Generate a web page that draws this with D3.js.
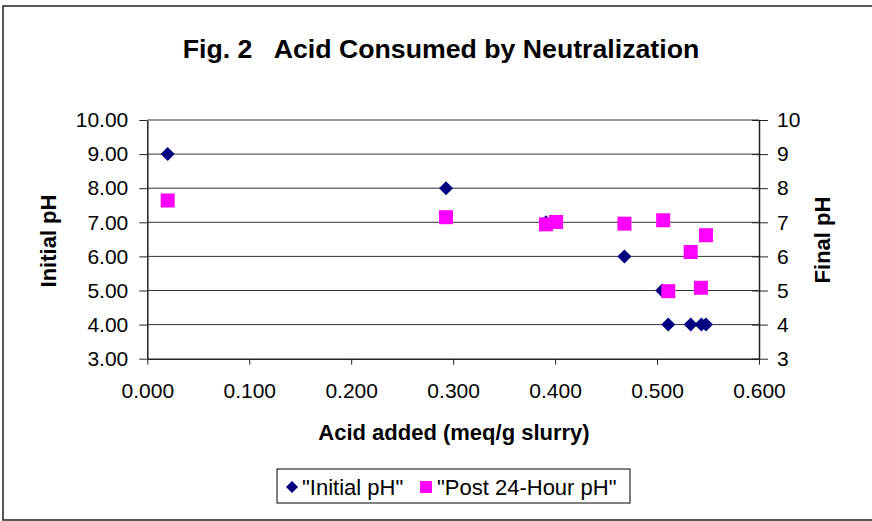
<!DOCTYPE html>
<html>
<head>
<meta charset="utf-8">
<script src="https://cdn.jsdelivr.net/npm/d3@7/dist/d3.min.js"></script>
<style>
  html, body { margin: 0; padding: 0; background: #fff; }
  svg { display: block; font-family: "Liberation Sans", Arial, sans-serif; }
</style>
</head>
<body>
<svg id="chart" width="872" height="521"></svg>
<script>
// ---- data ----
const titleText = "Fig. 2   Acid Consumed by Neutralization";
const xTitle = "Acid added (meq/g slurry)";
const yLeftTitle = "Initial pH";
const yRightTitle = "Final pH";
const seriesNames = ['"Initial pH"', '"Post 24-Hour pH"'];

const xTicks = [0, 0.1, 0.2, 0.3, 0.4, 0.5, 0.6];
const yTicks = [3, 4, 5, 6, 7, 8, 9, 10];

const initialX = [0.020, 0.293, 0.391, 0.401, 0.468, 0.505, 0.511, 0.533, 0.5435, 0.548];
const initialPH = [9.0, 8.0, 7.0, 7.0, 6.0, 5.0, 4.0, 4.0, 4.0, 4.0];

const postX = [0.020, 0.293, 0.391, 0.401, 0.468, 0.506, 0.511, 0.533, 0.543, 0.548];
const postPH = [7.64, 7.15, 6.94, 7.01, 6.96, 7.06, 4.98, 6.13, 5.08, 6.62];

// ---- layout ----
const svg = d3.select("#chart");
const plot = { left: 147.3, right: 759, top: 120, bottom: 358.7 };

const x = d3.scaleLinear().domain([0, 0.6]).range([plot.left, plot.right]);
const yL = d3.scaleLinear().domain([3, 10]).range([plot.bottom, plot.top]);
const yR = d3.scaleLinear().domain([3, 10]).range([plot.bottom, plot.top]);

// outer frame
svg.append("rect")
  .attr("x", 3).attr("y", 6).attr("width", 880).attr("height", 514)
  .attr("fill", "#fff").attr("stroke", "#222").attr("stroke-width", 1.5);

// title
svg.append("text")
  .attr("x", 441).attr("y", 58)
  .attr("text-anchor", "middle")
  .attr("font-weight", "bold")
  .attr("font-size", 26.7)
  .style("white-space", "pre")
  .attr("xml:space", "preserve")
  .text(titleText);

// gridlines
svg.append("g").selectAll("line")
  .data(yTicks.filter(d => d !== 3 && d !== 10))
  .join("line")
  .attr("x1", plot.left).attr("x2", plot.right)
  .attr("y1", d => yL(d)).attr("y2", d => yL(d))
  .attr("stroke", "#333").attr("stroke-width", 1);

// top border of plot area (gray)
svg.append("line")
  .attr("x1", plot.left).attr("x2", plot.right)
  .attr("y1", plot.top).attr("y2", plot.top)
  .attr("stroke", "#999").attr("stroke-width", 2);

// axes
function styleAxis(g) {
  g.selectAll("path.domain").attr("stroke", "#222").attr("stroke-width", 1.5);
  g.selectAll(".tick line").attr("stroke", "#222").attr("stroke-width", 1);
  g.selectAll(".tick text")
    .attr("font-family", "'Liberation Sans', Arial, sans-serif")
    .attr("font-size", 21).attr("fill", "#000");
}

const gx = svg.append("g")
  .attr("transform", `translate(0,${plot.bottom})`)
  .call(d3.axisBottom(x).tickValues(xTicks).tickFormat(d3.format(".3f")).tickSizeInner(6).tickSizeOuter(0).tickPadding(18));
styleAxis(gx);

const gyl = svg.append("g")
  .attr("transform", `translate(${plot.left},0)`)
  .call(d3.axisLeft(yL).tickValues(yTicks).tickFormat(d3.format(".2f")).tickSizeInner(8).tickSizeOuter(0).tickPadding(11));
styleAxis(gyl);

const gyr = svg.append("g")
  .attr("transform", `translate(${plot.right},0)`)
  .call(d3.axisRight(yR).tickValues(yTicks).tickFormat(d3.format("d")).tickSizeInner(9).tickSizeOuter(0).tickPadding(9));
styleAxis(gyr);
// cross ticks on right axis
gyr.selectAll(".tick line").attr("x1", -7);

// axis titles
svg.append("text")
  .attr("x", 454).attr("y", 440)
  .attr("text-anchor", "middle").attr("font-weight", "bold").attr("font-size", 22)
  .text(xTitle);

svg.append("text")
  .attr("transform", `translate(56,241) rotate(-90)`)
  .attr("text-anchor", "middle").attr("font-weight", "bold").attr("font-size", 22)
  .text(yLeftTitle);

svg.append("text")
  .attr("transform", `translate(830,240) rotate(-90)`)
  .attr("text-anchor", "middle").attr("font-weight", "bold").attr("font-size", 22)
  .text(yRightTitle);

// markers
function diamondPath(cx, cy, r) {
  return `M${cx},${cy - r}L${cx + r},${cy}L${cx},${cy + r}L${cx - r},${cy}Z`;
}

svg.append("g").selectAll("path")
  .data(initialX.map((d, i) => ({ x: d, y: initialPH[i] })))
  .join("path")
  .attr("d", d => diamondPath(x(d.x), yL(d.y), 7))
  .attr("fill", "#000080");

svg.append("g").selectAll("rect")
  .data(postX.map((d, i) => ({ x: d, y: postPH[i] })))
  .join("rect")
  .attr("x", d => x(d.x) - 7).attr("y", d => yR(d.y) - 7)
  .attr("width", 14).attr("height", 14)
  .attr("fill", "#FF00FF");

// legend
const lg = svg.append("g");
lg.append("rect")
  .attr("x", 277).attr("y", 469).attr("width", 353).attr("height", 34)
  .attr("fill", "#fff").attr("stroke", "#000").attr("stroke-width", 1);
lg.append("path").attr("d", diamondPath(292, 487, 6)).attr("fill", "#000080");
lg.append("text").attr("x", 302).attr("y", 494.5).attr("font-size", 22).text(seriesNames[0]);
lg.append("rect").attr("x", 420).attr("y", 481).attr("width", 12).attr("height", 12).attr("fill", "#FF00FF");
lg.append("text").attr("x", 437).attr("y", 494.5).attr("font-size", 22).text(seriesNames[1]);
</script>
</body>
</html>
